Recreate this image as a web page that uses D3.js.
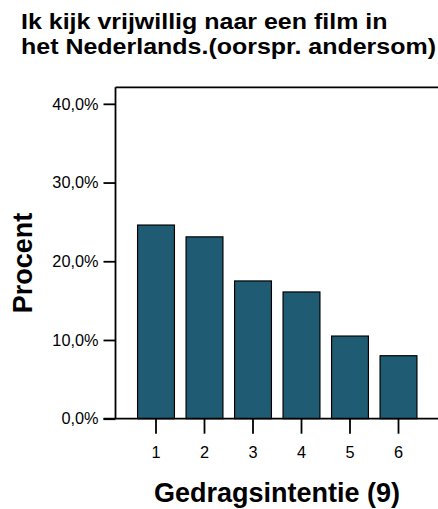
<!DOCTYPE html>
<html><head><meta charset="utf-8">
<script src="https://cdn.jsdelivr.net/npm/d3@7"></script>
<style>html,body{margin:0;padding:0;background:#fff;overflow:hidden}</style>
</head><body>
<svg id="chart" width="438" height="509"></svg>
<script>
const categories = ["1","2","3","4","5","6"];
const percentages = [24.6, 23.1, 17.5, 16.1, 10.5, 8.0];
const yTicks = [0, 10, 20, 30, 40];
const titleLines = ["Ik kijk vrijwillig naar een film in", "het Nederlands.(oorspr. andersom)"];
const xTitle = "Gedragsintentie (9)";
const yTitle = "Procent";

(function () {
const svg = d3.select("#chart");
const pLeft = 115.5, pRight = 439, pTop = 87.3, pBottom = 418.7;
const font = "Arial, 'Liberation Sans', Helvetica, sans-serif";

const x = d3.scaleBand().domain(categories).range([pLeft, pRight]).paddingInner(0.24).paddingOuter(0.455);
const y = d3.scaleLinear().domain([0, 42.1]).range([pBottom, pTop]);

// title (slightly wide lettering as in the reference)
svg.append("g").attr("transform", "translate(21,0) scale(1.136,1)")
  .selectAll("text").data(titleLines).join("text")
  .attr("x", 0).attr("y", (d, i) => 29.5 + i * 24.5)
  .attr("font-family", font).attr("font-weight", "bold").attr("font-size", 22)
  .attr("fill", "#000").text(d => d);

// bars
svg.append("g").selectAll("rect").data(percentages).join("rect")
  .attr("x", (d, i) => x(categories[i]))
  .attr("width", x.bandwidth())
  .attr("y", d => y(d))
  .attr("height", d => y(0) - y(d))
  .attr("fill", "#1f5c73").attr("stroke", "#000").attr("stroke-width", 1.2);

// frame top
svg.append("line").attr("x1", pLeft).attr("x2", 438).attr("y1", pTop).attr("y2", pTop)
  .attr("stroke", "#000").attr("stroke-width", 1.8);

// y axis
const yAxis = d3.axisLeft(y).tickValues(yTicks).tickSize(12).tickPadding(5)
  .tickFormat(d => d3.format(".1f")(d).replace(".", ",") + "%");
const gy = svg.append("g").attr("transform", `translate(${pLeft},0)`).call(yAxis);
gy.select(".domain").remove();
gy.append("line").attr("x1", 0).attr("x2", 0).attr("y1", pTop).attr("y2", pBottom).attr("stroke", "#000").attr("stroke-width", 1.8);
gy.selectAll(".tick line").attr("stroke", "#000").attr("stroke-width", 1.8);
gy.selectAll(".tick text").attr("font-family", font).attr("font-size", 16.3).attr("fill", "#000");

// x axis
const xAxis = d3.axisBottom(x).tickSize(15).tickPadding(13);
const gx = svg.append("g").attr("transform", `translate(0,${pBottom})`).call(xAxis);
gx.select(".domain").remove();
gx.append("line").attr("x1", pLeft - 12).attr("x2", 438).attr("y1", 0).attr("y2", 0).attr("stroke", "#000").attr("stroke-width", 1.8);
gx.selectAll(".tick line").attr("stroke", "#000").attr("stroke-width", 1.8);
gx.selectAll(".tick text").attr("font-family", font).attr("font-size", 16.3).attr("fill", "#000");

// axis titles
svg.append("text").attr("x", 277).attr("y", 502).attr("text-anchor", "middle")
  .attr("font-family", font).attr("font-weight", "bold").attr("font-size", 27).text(xTitle);
svg.append("text").attr("transform", "translate(31.5,263) rotate(-90)").attr("text-anchor", "middle")
  .attr("font-family", font).attr("font-weight", "bold").attr("font-size", 27).text(yTitle);
})();
</script>
</body></html>
